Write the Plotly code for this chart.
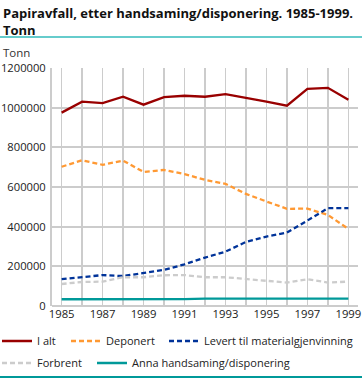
import plotly.graph_objects as go

years = list(range(1985, 2000))
i_alt = [975000, 1030000, 1023000, 1055000, 1015000, 1053000, 1060000, 1055000, 1068000, 1050000, 1030000, 1010000, 1095000, 1100000, 1040000]
deponert = [702000, 735000, 712000, 733000, 676000, 686000, 665000, 636000, 616000, 565000, 527000, 490000, 491000, 459000, 389000]
levert = [135000, 145000, 156000, 151000, 165000, 182000, 210000, 244000, 274000, 323000, 350000, 370000, 431000, 493000, 493000]
forbrent = [111000, 121000, 123000, 145000, 145000, 155000, 156000, 145000, 145000, 135000, 125000, 118000, 135000, 118000, 123000]
anna = [34000, 34000, 36000, 35000, 33000, 35000, 35000, 37000, 37000, 35000, 37000, 37000, 37000, 37000, 37000]

series = [
    ("I alt", i_alt, "#990000", "solid"),
    ("Deponert", deponert, "#ff9933", "5px,3px"),
    ("Levert til materialgjenvinning", levert, "#003399", "5px,3px"),
    ("Forbrent", forbrent, "#cccccc", "5px,3px"),
    ("Anna handsaming/disponering", anna, "#009999", "solid"),
]

FONT = "Open Sans"
W, H = 362, 378
L, R, T, B = 52, 4, 68, 72
PW, PH = W - L - R, H - T - B

def px_x(x):
    return (x - L) / PW

def px_y(y):
    return (T + PH - y) / PH

# legend placement (legend box left x, row centre y) -> each entry gets its own legend box
legend_pos = [(-3, 341), (66, 341), (164, 341), (-3, 363), (92, 363)]
legend_ids = ["legend", "legend2", "legend3", "legend4", "legend5"]

fig = go.Figure()
for (name, vals, col, dash), lid in zip(series, legend_ids):
    fig.add_trace(go.Scatter(x=years, y=vals, name=name, mode="lines", legend=lid,
                             line=dict(color=col, width=2.3, dash=dash)))

layout_legends = {}
for lid, (lx, ly) in zip(legend_ids, legend_pos):
    layout_legends[lid] = dict(orientation="h", xref="paper", yref="paper",
                               x=px_x(lx), y=px_y(ly), xanchor="left", yanchor="middle",
                               font=dict(family=FONT, size=11, color="#222"),
                               bgcolor="rgba(0,0,0,0)", borderwidth=0)

fig.update_layout(
    width=W, height=H,
    margin=dict(l=L, r=R, t=T, b=B, autoexpand=False),
    paper_bgcolor="white", plot_bgcolor="white",
    font=dict(family=FONT, size=11, color="#222"),
    showlegend=True,
    **layout_legends,
)

fig.update_xaxes(range=[1984.53, 1999.47], tick0=1985, dtick=2, automargin=False,
                 showgrid=True, gridcolor="#cccccc", gridwidth=1,
                 minor=dict(dtick=1, showgrid=True, gridcolor="#cccccc", gridwidth=2),
                 showline=False, zeroline=False, ticks="", ticklabeloverflow="allow",
                 tickfont=dict(size=11.3, color="#222"))
fig.update_yaxes(range=[0, 1200000], dtick=200000, tickformat="d", automargin=False,
                 showgrid=True, gridcolor="#cccccc", gridwidth=2,
                 showline=True, linecolor="#cccccc", linewidth=2,
                 zeroline=True, zerolinecolor="#cccccc", zerolinewidth=2,
                 ticks="outside", ticklen=2, tickcolor="rgba(0,0,0,0)",
                 ticklabeloverflow="allow",
                 tickfont=dict(size=11.2, color="#222"))

fig.add_annotation(text="<b>Papiravfall, etter handsaming/disponering. 1985-1999.<br>Tonn</b>",
                   xref="paper", yref="paper", x=px_x(1), y=px_y(2),
                   xanchor="left", yanchor="top", align="left", showarrow=False,
                   font=dict(family=FONT, size=13, color="#111"))
fig.add_annotation(text="Tonn", xref="paper", yref="paper", x=px_x(1), y=px_y(52),
                   xanchor="left", yanchor="middle", showarrow=False,
                   font=dict(size=11.5, color="#333"))
# decorative rules
fig.add_shape(type="line", xref="paper", yref="paper", x0=px_x(0), x1=px_x(W),
              y0=px_y(37), y1=px_y(37), line=dict(color="#66cccc", width=2))
fig.add_shape(type="line", xref="paper", yref="paper", x0=px_x(0), x1=px_x(W),
              y0=px_y(377), y1=px_y(377), line=dict(color="#009999", width=2))

fig.write_html("out.html", config={"displayModeBar": False},
               post_script="document.body.style.margin='0';document.body.style.padding='0';")
